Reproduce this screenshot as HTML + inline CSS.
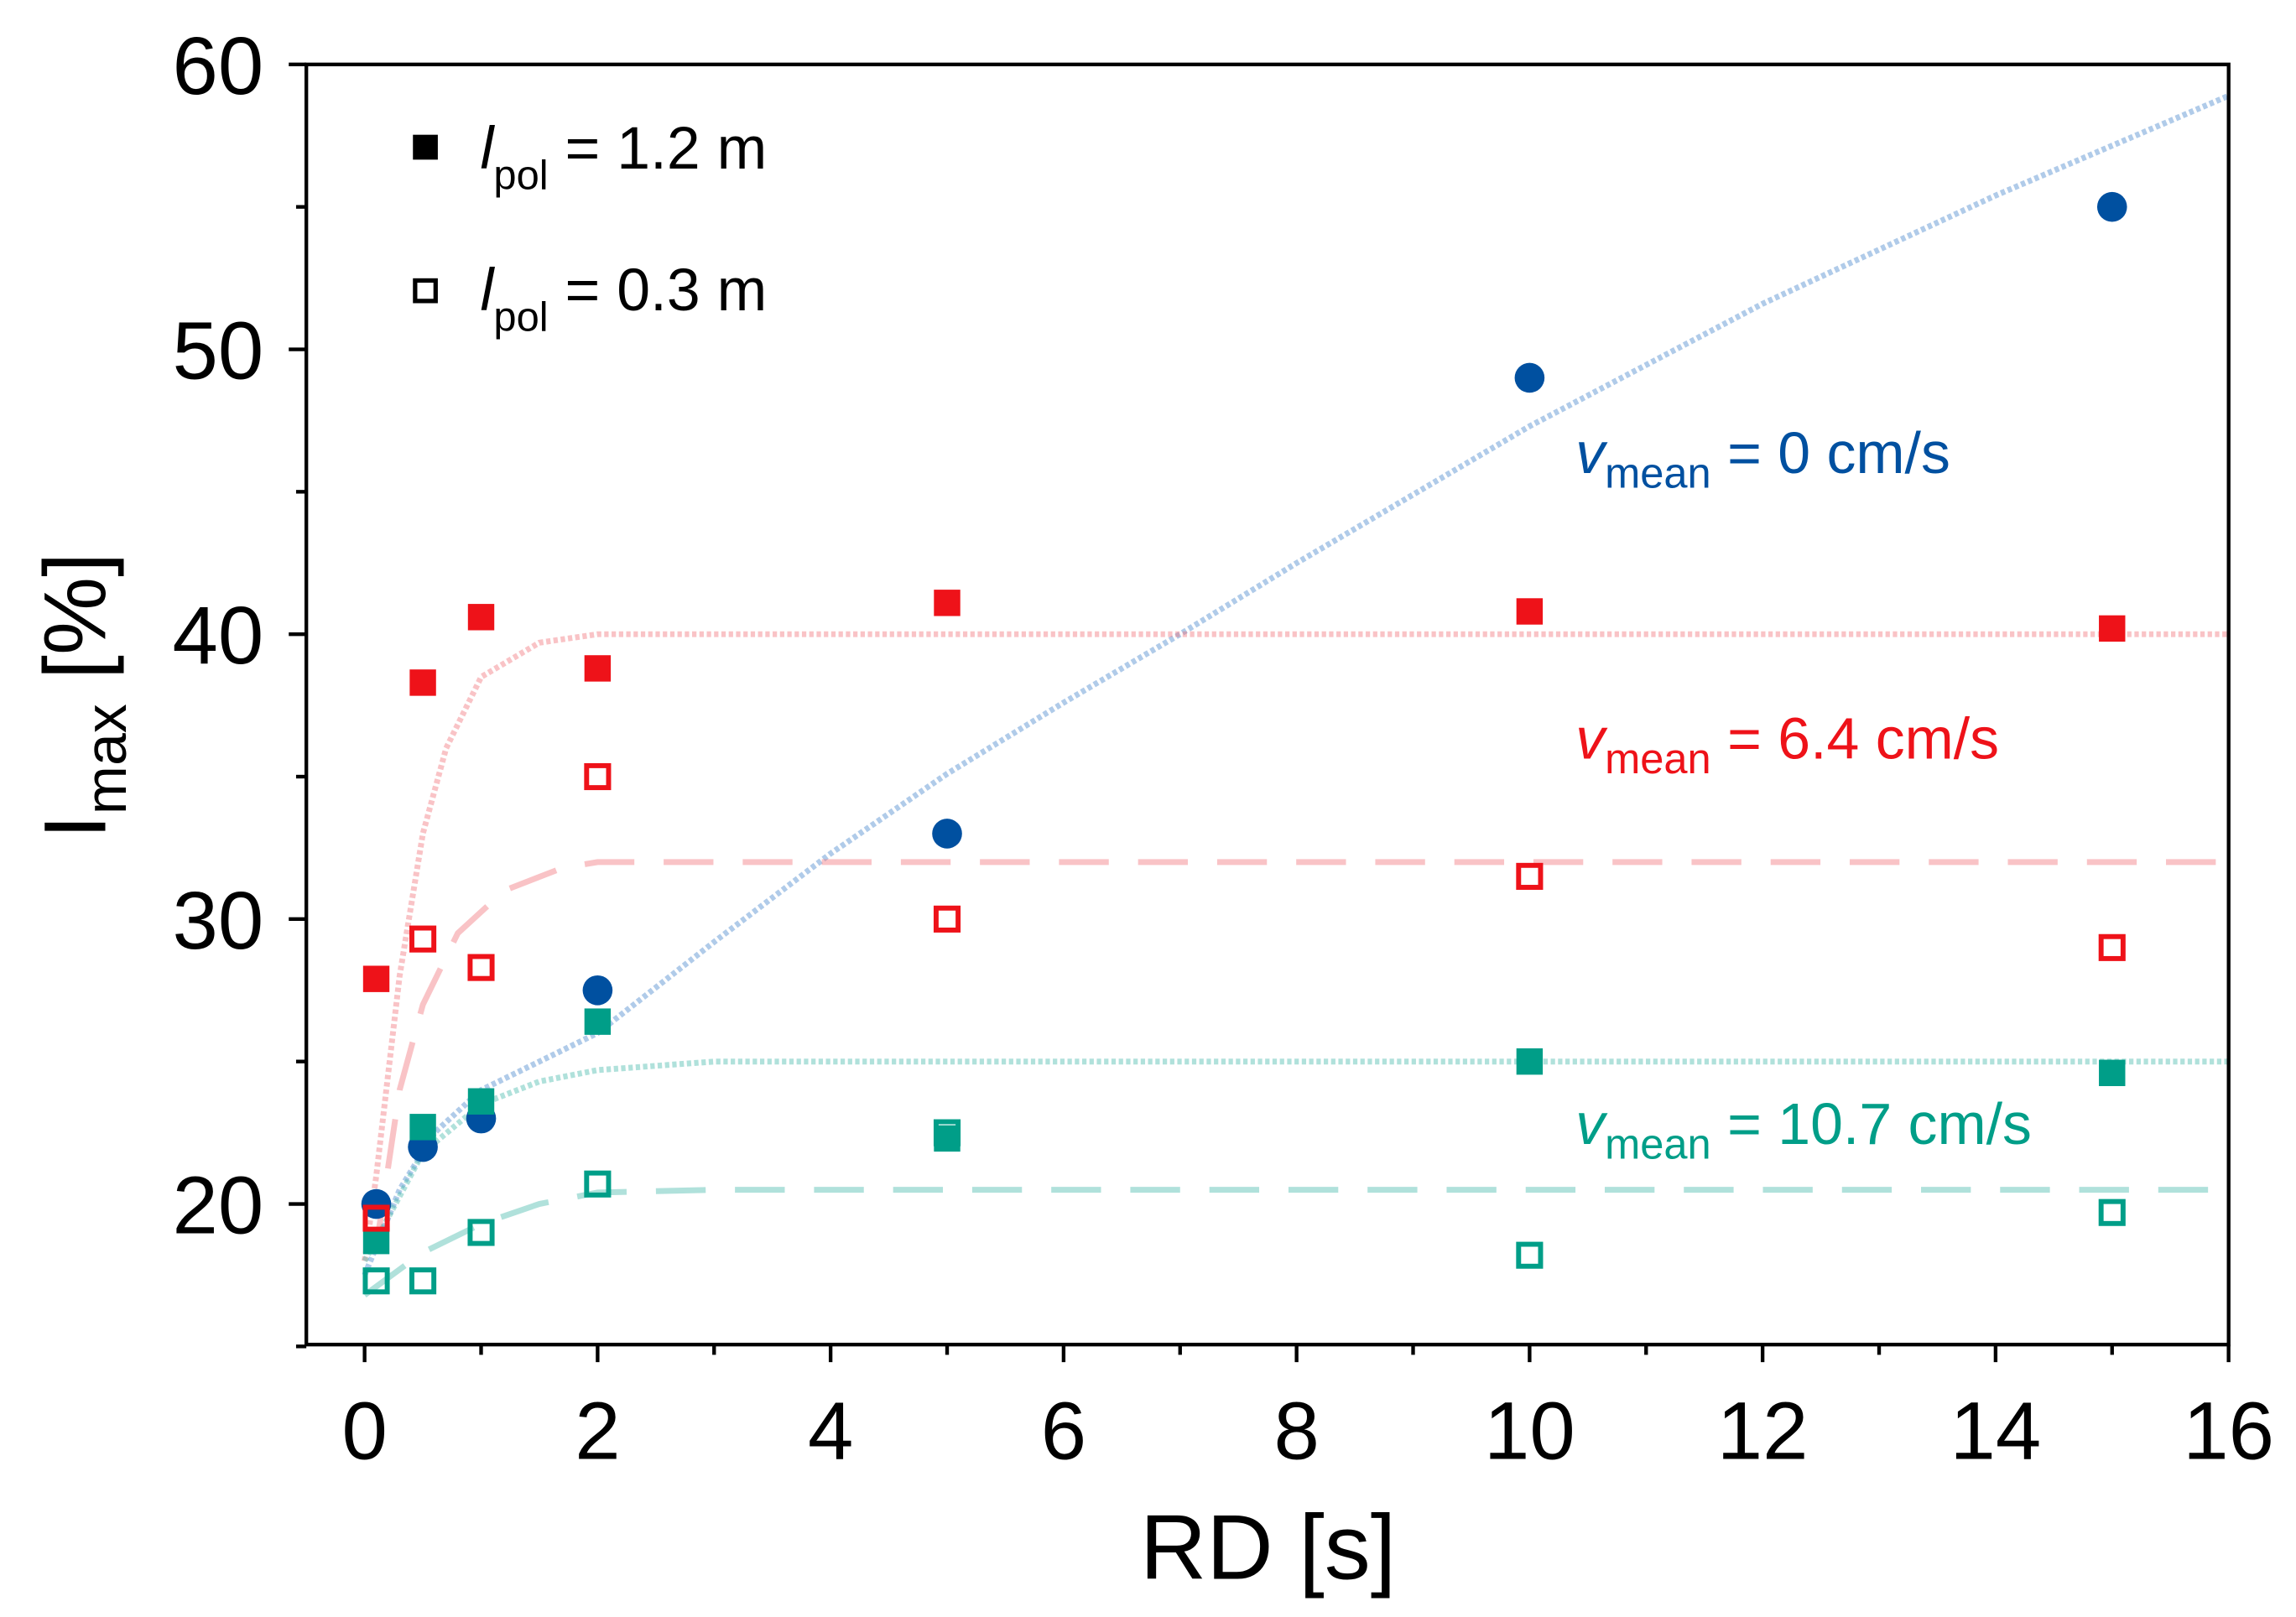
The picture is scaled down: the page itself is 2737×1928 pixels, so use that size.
<!DOCTYPE html>
<html><head><meta charset="utf-8"><style>
html,body{margin:0;padding:0;background:#fff;}
svg{display:block;font-family:"Liberation Sans",Arial,sans-serif;}
</style></head><body>
<svg id="chart" width="2737" height="1928" viewBox="0 0 1568 1104" preserveAspectRatio="none">
<g id="fits"></g>
<g id="marks"></g>
<g id="axes"></g>
<g>
 <rect x="282" y="92" width="17" height="17" fill="#000"/>
 <text x="328" y="115" font-size="41"><tspan font-style="italic">l</tspan><tspan font-size="28" dy="14">pol</tspan><tspan dy="-14"> = 1.2 m</tspan></text>
 <rect x="283.5" y="191.5" width="14" height="14" fill="none" stroke="#000" stroke-width="3"/>
 <text x="328" y="212" font-size="41"><tspan font-style="italic">l</tspan><tspan font-size="28" dy="14">pol</tspan><tspan dy="-14"> = 0.3 m</tspan></text>
</g>
<g font-size="40">
 <text x="1076" y="323" fill="#0050a0"><tspan font-style="italic">v</tspan><tspan font-size="29" dy="10">mean</tspan><tspan dy="-10"> = 0 cm/s</tspan></text>
 <text x="1076" y="518" fill="#ee1219"><tspan font-style="italic">v</tspan><tspan font-size="29" dy="10">mean</tspan><tspan dy="-10"> = 6.4 cm/s</tspan></text>
 <text x="1076" y="781" fill="#009e88"><tspan font-style="italic">v</tspan><tspan font-size="29" dy="10">mean</tspan><tspan dy="-10"> = 10.7 cm/s</tspan></text>
</g>
<text transform="translate(72,475) rotate(-90)" font-size="60" text-anchor="middle">I<tspan font-size="40" dy="14">max</tspan><tspan dy="-14"> [%]</tspan></text>
<script>
const xTicks=[0,2,4,6,8,10,12,14,16];
const yTicks=[20,30,40,50,60];
const rd=[0.1,0.5,1,2,5,10,15];
const blueFilled=[20,22,23,27.5,33,49,55];
const redFilled=[27.9,38.3,40.6,38.8,41.1,40.8,40.2];
const redOpen=[19.5,29.3,28.3,35,30,31.5,29];
const tealFilled=[18.7,22.7,23.6,26.4,22.3,25,24.6];
const tealOpen=[17.3,17.3,19,20.7,22.5,18.2,19.7];
const blueFitX=[0,0.3,0.6,1,1.5,2,3,4,5,6,7,8,10,12,14,16];
const blueFitY=[17.5,20.5,22.5,24,25,26,29.2,32.3,35.1,37.6,40,42.5,47.3,51.6,55.4,58.9];
const redFitX=[0,0.1,0.3,0.5,0.7,1,1.5,2,3,16];
const redFitY=[18,21,28,33,36,38.5,39.7,40,40,40];
const redDashX=[0.1,0.3,0.5,0.8,1.2,1.7,2,3,16];
const redDashY=[18.5,24,27,29.5,31,31.8,32,32,32];
const tealFitX=[0,0.2,0.5,1,1.5,2,3,5,16];
const tealFitY=[18,19.5,21.8,23.5,24.3,24.7,25,25,25];
const tealDashX=[0,0.5,1,1.5,2,3,16];
const tealDashY=[16.8,18.3,19.3,20,20.4,20.5,20.5];
const NS='http://www.w3.org/2000/svg';
const X=v=>249+v*79.56, Y=v=>822-(v-20)*19.45;
const L=209.2,R=1522,T=44,B=918;
function mk(tag,attrs,parent){const e=document.createElementNS(NS,tag);for(const k in attrs)e.setAttribute(k,attrs[k]);parent.appendChild(e);return e;}
const fits=document.getElementById('fits');
function fit(xs,ys,color,dash,name){
 const d=xs.map((x,i)=>(i?'L':'M')+X(x).toFixed(1)+','+Y(ys[i]).toFixed(1)).join(' ');
 const p=mk('path',{d:d,fill:'none',stroke:color,'stroke-width':4,opacity:0.4},fits);
 if(dash)p.setAttribute('stroke-dasharray',dash);
 
 
}
fit(blueFitX,blueFitY,'#3a7cc8','3,2','fit-vmean-0');
fit(redFitX,redFitY,'#f06a70','3,2','fit-vmean-6-4-1-2m');
fit(redDashX,redDashY,'#f06a70','34,20','fit-vmean-6-4-0-3m');
fit(tealFitX,tealFitY,'#3ab5a5','3,2','fit-vmean-10-7-1-2m');
fit(tealDashX,tealDashY,'#3ab5a5','34,20','fit-vmean-10-7-0-3m');
const marks=document.getElementById('marks');
function sq(vals,color,open,name){vals.forEach((v,i)=>{
 const s=open?15:18;
 const r=mk('rect',{x:X(rd[i])-s/2,y:Y(v)-s/2,width:s,height:s,fill:open?'none':color,stroke:open?color:'none','stroke-width':3.4},marks);
 
 
});}
blueFilled.forEach((v,i)=>{
 const c=mk('circle',{cx:X(rd[i]),cy:Y(v),r:10.2,fill:'#0050a0'},marks);
 
 
});
sq(tealFilled,'#009e88',false,'point-vmean-10-7-1-2m');
sq(tealOpen,'#009e88',true,'point-vmean-10-7-0-3m');
sq(redFilled,'#ee1219',false,'point-vmean-6-4-1-2m');
sq(redOpen,'#ee1219',true,'point-vmean-6-4-0-3m');
const ax=document.getElementById('axes');
const fr=mk('rect',{x:L,y:T,width:R-L,height:B-T,fill:'none',stroke:'#000','stroke-width':2.5},ax);


for(let k=0;k<=16;k++){const major=k%2===0;mk('line',{x1:X(k),x2:X(k),y1:B,y2:B+(major?12:7),stroke:'#000','stroke-width':2.5},ax);}
xTicks.forEach(v=>{const t=mk('text',{x:X(v),y:996,'font-size':56,'text-anchor':'middle'},ax);t.textContent=v;
 
 });
for(let v=15;v<=60;v+=5){const major=v%10===0;mk('line',{x1:L,x2:L-(major?12:7),y1:Y(v),y2:Y(v),stroke:'#000','stroke-width':2.5},ax);}
yTicks.forEach(v=>{const t=mk('text',{x:180,y:Y(v)+20,'font-size':56,'text-anchor':'end'},ax);t.textContent=v;
 
 });
const xt=mk('text',{x:866,y:1078,'font-size':63,'text-anchor':'middle'},ax);xt.textContent='RD [s]';


</script>
</svg>
</body></html>
